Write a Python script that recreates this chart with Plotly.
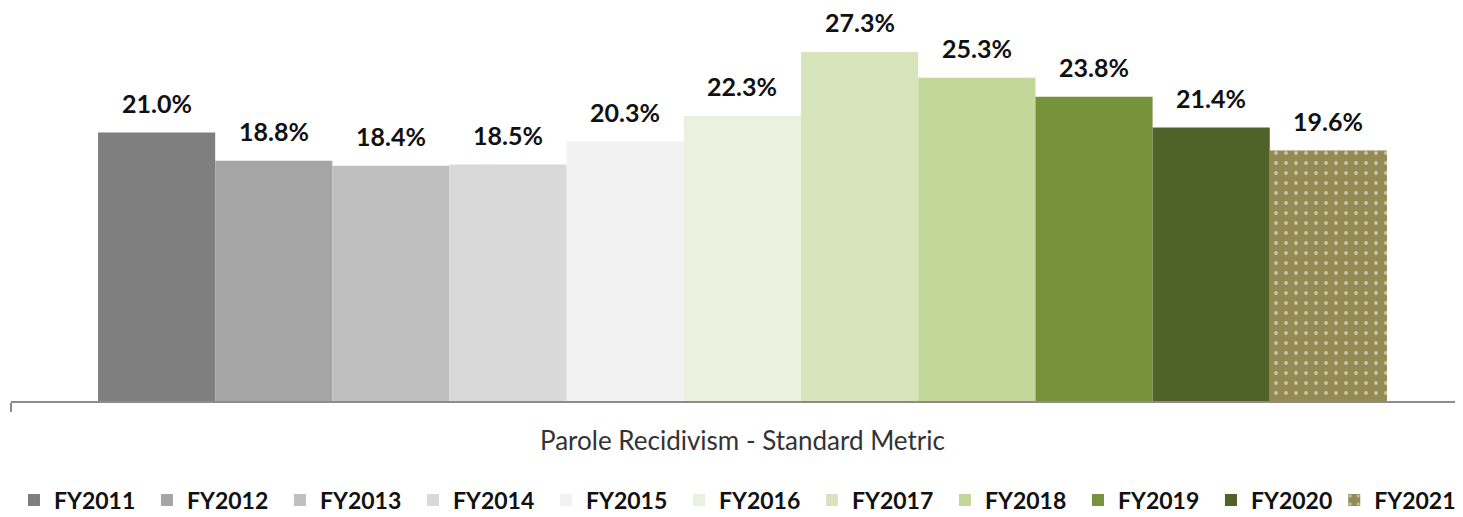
import plotly.graph_objects as go

years = ["FY2011", "FY2012", "FY2013", "FY2014", "FY2015", "FY2016",
         "FY2017", "FY2018", "FY2019", "FY2020", "FY2021"]
values = [21.0, 18.8, 18.4, 18.5, 20.3, 22.3, 27.3, 25.3, 23.8, 21.4, 19.6]
colors = ["#7f7f7f", "#a5a5a5", "#bfbfbf", "#d9d9d9", "#f2f2f2", "#ebf1de",
          "#d8e4bc", "#c4d79b", "#76933c", "#4f6228", "#948a54"]
category = "Parole Recidivism - Standard Metric"

FONT = "Lato"
LEG_FONT = dict(family=FONT, size=23, color="#111111", weight="bold")

fig = go.Figure()
for i, (yr, v, c) in enumerate(zip(years, values, colors)):
    marker = dict(color=c, line=dict(width=0))
    if yr == "FY2021":
        marker["pattern"] = dict(shape=".", fgcolor="white", bgcolor=c,
                                 size=10, solidity=0.12, fillmode="overlay")
    fig.add_trace(go.Bar(x=[i], y=[v], width=[1.0], name=yr, marker=marker,
                         hoverinfo="name+y",
                         legend="legend2" if yr == "FY2021" else "legend"))
    fig.add_annotation(x=i, y=v, text=f"{v:.1f}%", showarrow=False,
                       yanchor="bottom", yshift=13,
                       font=dict(family=FONT, size=25, color="#111111", weight="bold"))

fig.update_layout(
    width=1455, height=509,
    margin=dict(l=3, r=0, t=0, b=116, autoexpand=False),
    paper_bgcolor="white", plot_bgcolor="white",
    barmode="overlay",
    showlegend=True,
    legend=dict(orientation="h", xref="container", yref="container",
                x=0.0041, xanchor="left", y=0.0334, yanchor="middle",
                font=LEG_FONT, entrywidth=88, entrywidthmode="pixels",
                traceorder="normal", itemclick=False),
    legend2=dict(orientation="h", xref="container", yref="container",
                 x=0.9115, xanchor="left", y=0.0334, yanchor="middle",
                 font=LEG_FONT, itemclick=False),
    xaxis=dict(range=[-1.2424, 11.149], showgrid=False, zeroline=False,
               showline=True, linecolor="#8c8c8c", linewidth=2,
               tickvals=[5], ticktext=[category], ticks="",
               ticklabelstandoff=16,
               tickfont=dict(family=FONT, size=26, color="#333333"),
               minor=dict(tickvals=[-1.2424], ticks="outside", ticklen=9,
                          tickcolor="#8c8c8c", tickwidth=2)),
    yaxis=dict(range=[0, 30.75], visible=False, showgrid=False),
)

fig.write_html("out.html")
